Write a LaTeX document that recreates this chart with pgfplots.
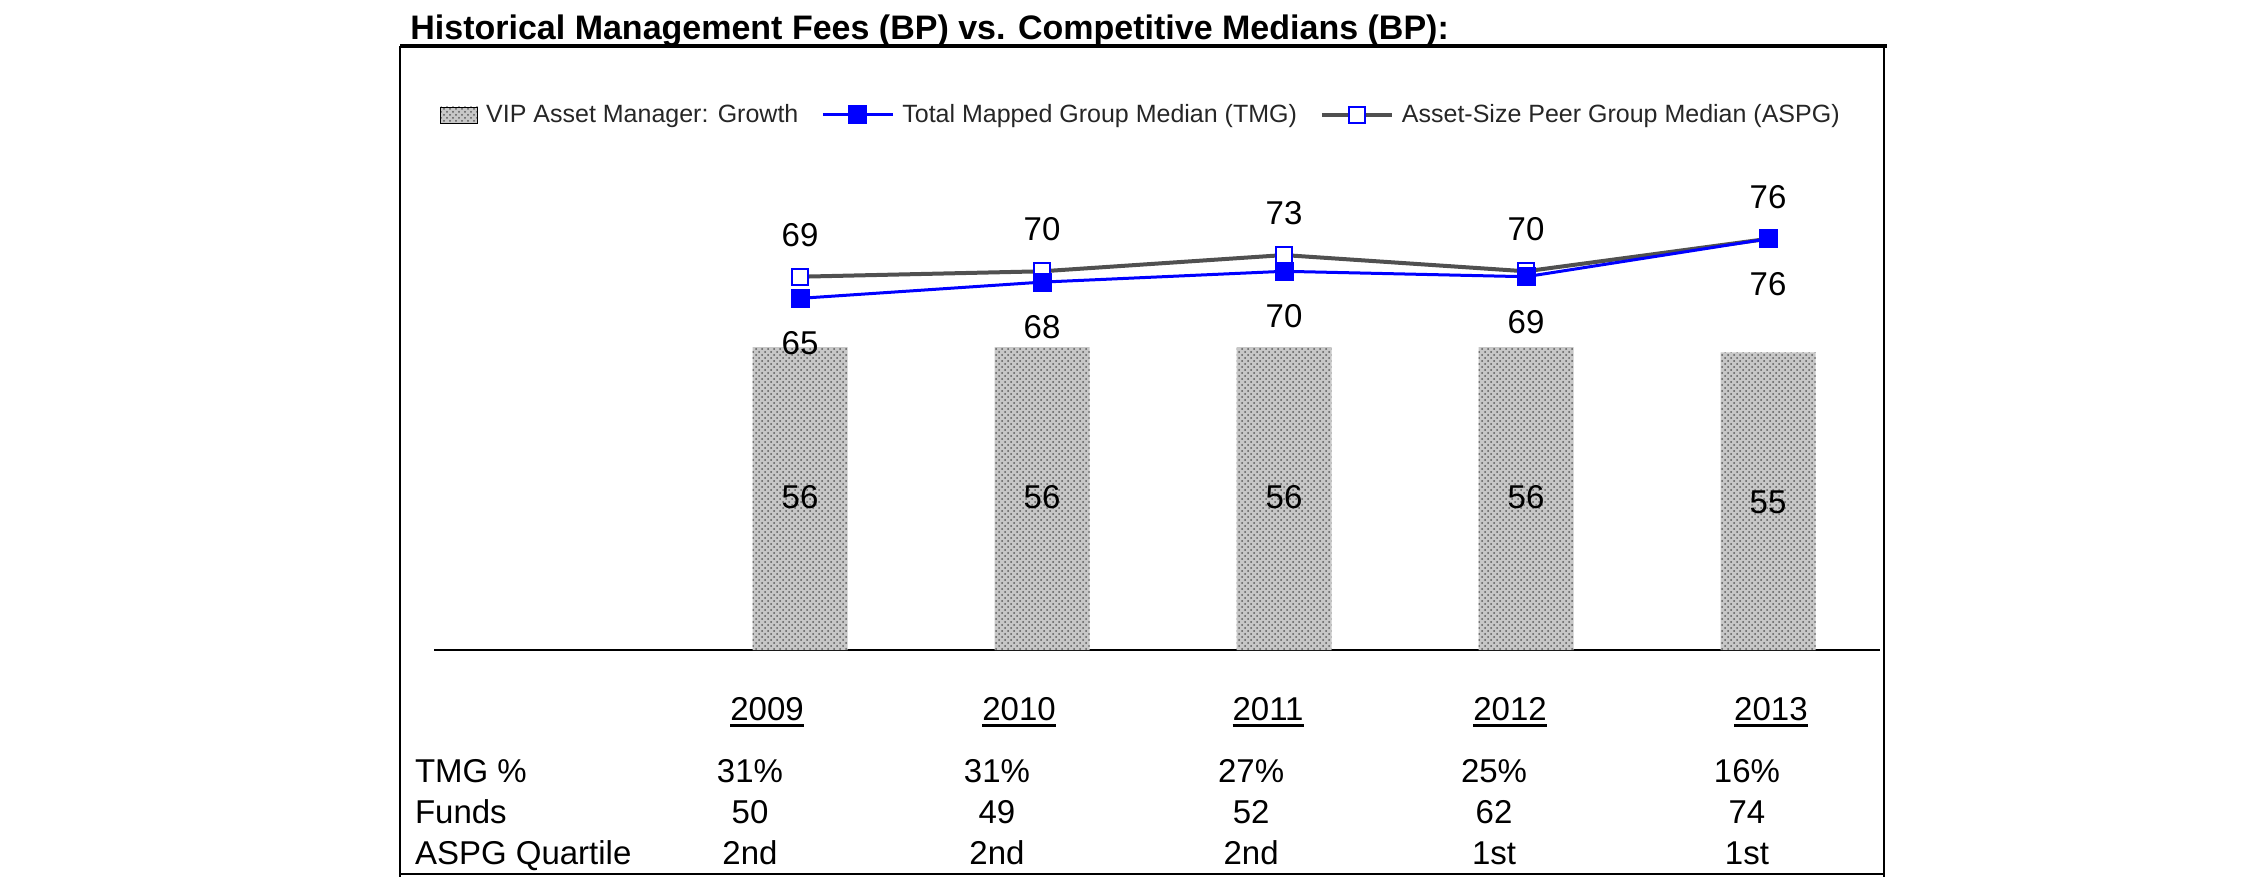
\documentclass[border=0pt]{standalone}
\usepackage{fontspec}
\setmainfont{Liberation Sans}
\usepackage{pgfplots}
\pgfplotsset{compat=1.18}
\usetikzlibrary{patterns}
\definecolor{aspggrey}{RGB}{80,80,80}
\newcommand\lab{\fontsize{16.5}{19}\selectfont}
\newcommand\yr[1]{\setbox0=\hbox{#1}\rlap{\rule[-3.5pt]{\wd0}{1.3pt}}#1}
\pgfplotsset{
  /pgf/number format/assume math mode=true,
  tmgstyle/.style={color=blue, line width=1.5pt, mark=square*, mark size=4.5pt, mark options={fill=blue, draw=blue, line width=0.5pt, solid}},
  aspgstyle/.style={color=aspggrey, line width=2pt, mark=square*, mark size=4pt, mark options={draw=blue, fill=white, line width=1pt, solid}},
  mylineleg/.style={legend image code/.code={\draw[mark repeat=2,mark phase=2,##1] plot coordinates {(0pt,0pt) (17.5pt,0pt) (35pt,0pt)};}},
  barleg/.style={legend image code/.code={\fill[black!22] (0pt,-4pt) rectangle (18.5pt,4pt); \fill[pattern=crosshatch dots, pattern color=black!65] (0pt,-4pt) rectangle (18.5pt,4pt);}},
}
\pgfplotstableread{
x y
0 56
1 56
2 56
3 56
4 55
}\bars
\pgfplotstableread{
x y
0 65
1 68
2 70
3 69
4 76
}\tmg
\pgfplotstableread{
x y
0 69
1 70
2 73
3 70
4 76
}\aspg
\begin{document}
\begin{tikzpicture}
\path[use as bounding box] (0pt,0pt) rectangle (1125pt,447.5pt);
\begin{axis}[
  at={(217pt,122.5pt)}, anchor=south west,
  scale only axis, width=723pt, height=270.5pt,
  xmin=-1.5124, xmax=4.4628, ymin=0, ymax=100,
  axis x line=bottom, axis y line=none,
  x axis line style={-, line width=1pt, black},
  xtick={-0.136,0.905,1.934,2.934,4.012},
  xticklabels={\yr{2009},\yr{2010},\yr{2011},\yr{2012},\yr{2013}},
  xticklabel style={anchor=base, yshift=-35pt, font=\lab, text=black},
  major tick length=0pt, ytick=\empty,
  clip=false,
  legend columns=3,
  legend style={at={(axis cs:-1.4876,98.9)}, anchor=west, draw=none, fill=none, inner sep=0pt,
    font=\fontsize{12.5}{15}\selectfont, text=black!85, nodes={inner sep=0pt},
    /tikz/every odd column/.append style={column sep=4pt},
    /tikz/every even column/.append style={column sep=11.5pt}},
  legend cell align=left,
]
\addlegendimage{barleg}
\addlegendentry{VIP Asset Manager: Growth}
\addlegendimage{tmgstyle, mylineleg}
\addlegendentry{Total Mapped Group Median (TMG)}
\addlegendimage{aspgstyle, mylineleg}
\addlegendentry{Asset-Size Peer Group Median (ASPG)}

\addplot[ybar, bar width=47.5pt, bar shift=0pt, fill=black!22, draw=none, forget plot] table {\bars};
\addplot[ybar, bar width=47.5pt, bar shift=0pt, pattern=crosshatch dots, pattern color=black!65, draw=none, forget plot] table {\bars};
\addplot[ybar, bar width=47.5pt, bar shift=0pt, draw=none, fill=none, forget plot,
  nodes near coords, point meta=y,
  every node near coord/.append style={anchor=center, yshift=-75pt, font=\lab, text=black}] table {\bars};

\addplot[aspgstyle, forget plot, nodes near coords, point meta=y,
  every node near coord/.append style={anchor=center, yshift=21pt, font=\lab, text=black}] table {\aspg};
\addplot[tmgstyle, forget plot, nodes near coords, point meta=y,
  every node near coord/.append style={anchor=center, yshift=-22.5pt, font=\lab, text=black}] table {\tmg};

% table rows
\node[anchor=base west, font=\lab] at (axis cs:-1.620,-24.58) {TMG \%};
\node[anchor=base west, font=\lab] at (axis cs:-1.620,-31.98) {Funds};
\node[anchor=base west, font=\lab] at (axis cs:-1.620,-39.56) {ASPG Quartile};

\node[anchor=base, font=\lab] at (axis cs:-0.2066,-24.58) {31\%};
\node[anchor=base, font=\lab] at (axis cs:0.814,-24.58) {31\%};
\node[anchor=base, font=\lab] at (axis cs:1.864,-24.58) {27\%};
\node[anchor=base, font=\lab] at (axis cs:2.868,-24.58) {25\%};
\node[anchor=base, font=\lab] at (axis cs:3.913,-24.58) {16\%};

\node[anchor=base, font=\lab] at (axis cs:-0.2066,-31.98) {50};
\node[anchor=base, font=\lab] at (axis cs:0.814,-31.98) {49};
\node[anchor=base, font=\lab] at (axis cs:1.864,-31.98) {52};
\node[anchor=base, font=\lab] at (axis cs:2.868,-31.98) {62};
\node[anchor=base, font=\lab] at (axis cs:3.913,-31.98) {74};

\node[anchor=base, font=\lab] at (axis cs:-0.2066,-39.56) {2nd};
\node[anchor=base, font=\lab] at (axis cs:0.814,-39.56) {2nd};
\node[anchor=base, font=\lab] at (axis cs:1.864,-39.56) {2nd};
\node[anchor=base, font=\lab] at (axis cs:2.868,-39.56) {1st};
\node[anchor=base, font=\lab] at (axis cs:3.913,-39.56) {1st};
\end{axis}
% frame
\draw[line width=1pt] (200pt,424.5pt) -- (200pt,9pt);
\draw[line width=1pt] (200pt,10.5pt) -- (942pt,10.5pt);
\draw[line width=1pt] (942pt,424.5pt) -- (942pt,9pt);
\draw[line width=1.75pt] (200pt,424.5pt) -- (943.5pt,424.5pt);
% title
\node[anchor=base west, inner sep=0pt, font=\fontsize{17}{20}\selectfont\bfseries] at (205pt,427.5pt) {Historical Management Fees (BP) vs. Competitive Medians (BP):};
\end{tikzpicture}
\end{document}
